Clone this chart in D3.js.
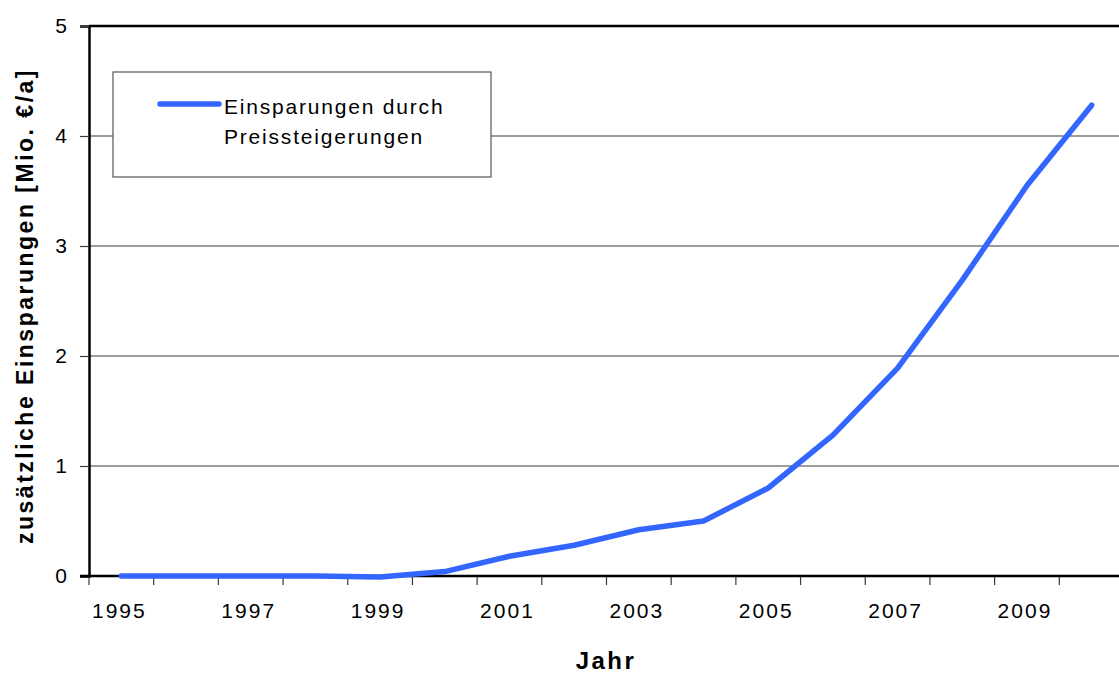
<!DOCTYPE html>
<html>
<head>
<meta charset="utf-8">
<script src="https://cdn.jsdelivr.net/npm/d3@7"></script>
<style>
  body { margin: 0; background: #fff; }
  svg { display: block; font-family: "Liberation Sans", Arial, sans-serif; }
</style>
</head>
<body>
<svg id="chart" width="1119" height="673"></svg>
<script>
  // data
  var years = [1995, 1996, 1997, 1998, 1999, 2000, 2001, 2002, 2003, 2004, 2005, 2006, 2007, 2008, 2009, 2010];
  var savings = [0, 0, 0, 0, -0.01, 0.04, 0.18, 0.28, 0.42, 0.50, 0.80, 1.28, 1.89, 2.69, 3.55, 4.28];
  var yTicks = [0, 1, 2, 3, 4, 5];
  var xLabels = [1995, 1997, 1999, 2001, 2003, 2005, 2007, 2009];
  var seriesName = ["Einsparungen durch", "Preissteigerungen"];

  var svg = d3.select("#chart");
  var plotLeft = 89, plotTop = 26, plotBottom = 576, plotRight = 1124;

  var x = d3.scaleBand().domain(years).range([plotLeft, plotRight]).padding(0);
  var y = d3.scaleLinear().domain([0, 5]).range([plotBottom, plotTop]);

  // gridlines
  svg.append("g")
    .selectAll("line")
    .data(yTicks.filter(function(d) { return d > 0 && d < 5; }))
    .enter().append("line")
    .attr("x1", plotLeft).attr("x2", plotRight)
    .attr("y1", function(d) { return y(d); })
    .attr("y2", function(d) { return y(d); })
    .attr("stroke", "#3a3a3a")
    .attr("stroke-width", 1.2);

  // top border
  svg.append("line")
    .attr("x1", plotLeft).attr("x2", plotRight)
    .attr("y1", y(5)).attr("y2", y(5))
    .attr("stroke", "#000").attr("stroke-width", 2.5);

  // y axis
  var yAxis = svg.append("g")
    .attr("transform", "translate(" + plotLeft + ",0)")
    .call(d3.axisLeft(y).tickValues(yTicks).tickSize(9).tickPadding(13).tickFormat(d3.format("d")));
  yAxis.select(".domain").attr("stroke", "#000").attr("stroke-width", 2.5);
  yAxis.selectAll(".tick line").attr("stroke", "#3a3a3a").attr("stroke-width", 1.2);
  yAxis.selectAll("text").attr("font-size", 21).attr("fill", "#000").attr("font-family", null);

  // x axis, ticks between categories
  var bounds = years.map(function(d) { return x(d); }).concat([plotRight]);
  var xg = svg.append("g");
  xg.selectAll("line.tk")
    .data(bounds)
    .enter().append("line")
    .attr("class", "tk")
    .attr("x1", function(d) { return d; }).attr("x2", function(d) { return d; })
    .attr("y1", plotBottom).attr("y2", plotBottom + 9)
    .attr("stroke", "#3a3a3a").attr("stroke-width", 1.2);
  xg.selectAll("text")
    .data(xLabels)
    .enter().append("text")
    .attr("x", function(d) { return x(d) + x.bandwidth() / 2 - 2; })
    .attr("y", 618)
    .attr("text-anchor", "middle")
    .attr("font-size", 21)
    .attr("letter-spacing", 2)
    .text(function(d) { return d; });
  xg.append("line")
    .attr("x1", plotLeft - 9).attr("x2", plotRight)
    .attr("y1", plotBottom).attr("y2", plotBottom)
    .attr("stroke", "#000").attr("stroke-width", 2.5);

  // series line
  var line = d3.line()
    .x(function(d, i) { return x(years[i]) + x.bandwidth() / 2; })
    .y(function(d) { return y(d); });

  svg.append("path")
    .datum(savings)
    .attr("d", line)
    .attr("fill", "none")
    .attr("stroke", "#3366ff")
    .attr("stroke-width", 5.5)
    .attr("stroke-linejoin", "round")
    .attr("stroke-linecap", "round");

  // legend
  var lg = svg.append("g");
  lg.append("rect")
    .attr("x", 113).attr("y", 72).attr("width", 378).attr("height", 105)
    .attr("fill", "#fff").attr("stroke", "#555").attr("stroke-width", 1.2);
  lg.append("line")
    .attr("x1", 160).attr("x2", 219).attr("y1", 104).attr("y2", 104)
    .attr("stroke", "#3366ff").attr("stroke-width", 5.5).attr("stroke-linecap", "round");
  lg.selectAll("text")
    .data(seriesName)
    .enter().append("text")
    .attr("x", 224)
    .attr("y", function(d, i) { return 114 + i * 30; })
    .attr("font-size", 21)
    .attr("letter-spacing", 1.8)
    .text(function(d) { return d; });

  // axis titles
  svg.append("text")
    .attr("transform", "translate(33,306) rotate(-90)")
    .attr("text-anchor", "middle")
    .attr("font-size", 23)
    .attr("font-weight", "bold")
    .attr("letter-spacing", 2.5)
    .text("zusätzliche Einsparungen [Mio. €/a]");

  svg.append("text")
    .attr("x", 606).attr("y", 669)
    .attr("text-anchor", "middle")
    .attr("font-size", 24)
    .attr("font-weight", "bold")
    .attr("letter-spacing", 2.5)
    .text("Jahr");
</script>
</body>
</html>
